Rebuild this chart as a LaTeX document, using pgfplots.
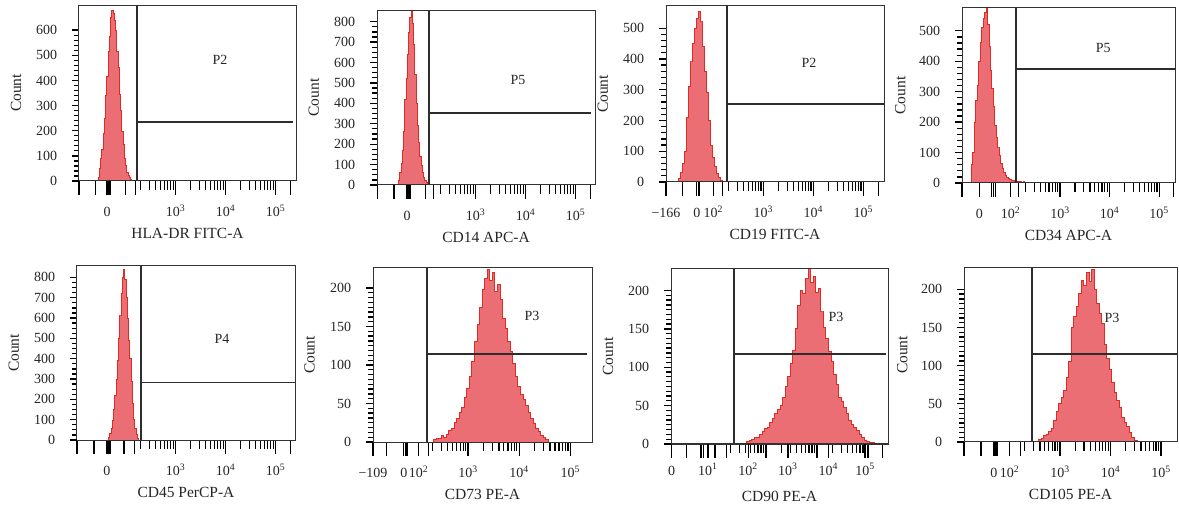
\documentclass[border=0pt]{standalone}
\usepackage{fontspec}
\setmainfont{Liberation Serif}
\usepackage{pgfplots}
\pgfplotsset{compat=1.18}

\definecolor{histfill}{RGB}{236,110,117}
\definecolor{histline}{RGB}{224,42,36}
\definecolor{gatecol}{RGB}{45,45,45}

% minor ticks at 2..9 x 10^k, k = 2,3,4 (display units: 10^k sits at k)
\def\logminor{2.301,2.477,2.602,2.699,2.778,2.845,2.903,2.954,3.301,3.477,3.602,3.699,3.778,3.845,3.903,3.954,4.301,4.477,4.602,4.699,4.778,4.845,4.903,4.954}

\tikzset{plab/.style={font=\fontsize{14}{16}\selectfont, text=black!85}}

\pgfplotsset{
  facs/.style={
    scale only axis,
    axis on top,
    anchor=south west,
    axis line style={draw=black!80, line width=1pt},
    tick align=outside,
    xtick pos=bottom, ytick pos=left,
    tick style={black, line width=1.3pt},
    xtick style={/pgfplots/major tick length=14pt, /pgfplots/minor tick length=9pt},
    ytick style={/pgfplots/major tick length=7pt, /pgfplots/minor tick length=5pt},
    minor xtick=\logminor,
    ymin=0,
    /pgf/number format/assume math mode=true,
    ticklabel style={font=\fontsize{14}{16}\selectfont, text=black!85},
    label style={font=\fontsize{15.5}{18}\selectfont, text=black!85},
    xlabel style={at={(axis description cs:0.5,-0.3)}, anchor=center},
    ylabel style={at={(axis description cs:-0.29,0.5)}, anchor=center},
    ylabel=Count,
    xticklabel style={anchor=base, yshift=-31pt},
    yticklabel style={anchor=east, xshift=-14pt},
    extra y ticks={0}, extra y tick labels={},
    extra y tick style={/pgfplots/major tick length=16pt},
  },
  hist/.style={const plot mark mid, fill=histfill, draw=histline, line width=1pt},
  gate/.style={gatecol, line width=1.5pt, forget plot},
}

\begin{document}
\begin{tikzpicture}[x=1pt,y=1pt]
\useasboundingbox (0,0) rectangle (1179,509);

% ---------- HLA-DR ----------
\begin{axis}[facs, at={(79pt,328pt)}, width=217pt, height=176pt,
  xmin=1.07, xmax=5.41, ymax=700,
  xtick={1.07,1.40,1.63,1.66,1.69,2,2.2,3,4,5,5.301},
  xticklabels={{},{},0,{},{},{},{},10\textsuperscript{3},10\textsuperscript{4},10\textsuperscript{5},{}},
  ytick={0,100,...,600}, minor y tick num=4,
  xlabel={HLA-DR FITC-A}]
\addplot[hist] coordinates {(1.455,0)(1.465,15)(1.49,50)(1.515,88)(1.54,125)(1.565,190)(1.59,250)(1.615,340)(1.64,415)(1.665,515)(1.69,575)(1.715,650)(1.74,680)(1.765,665)(1.79,640)(1.815,600)(1.84,515)(1.865,450)(1.89,345)(1.915,280)(1.94,195)(1.965,145)(1.99,90)(2.015,62)(2.04,35)(2.065,22)(2.09,12)(2.115,6)(2.14,3)(2.165,0)} \closedcycle;
\addplot[gate] coordinates {(2.23,0)(2.23,700)};
\addplot[gate] coordinates {(2.23,234)(5.35,234)};
\node[plab] at (axis cs:3.89,480) {P2};
\end{axis}

% ---------- CD14 ----------
\begin{axis}[facs, at={(377pt,324pt)}, width=218pt, height=175pt,
  xmin=1.03, xmax=5.39, ymax=857,
  xtick={1.04,1.37,1.63,1.66,1.69,2,2.16,3,4,5,5.301},
  xticklabels={{},{},0,{},{},{},{},10\textsuperscript{3},10\textsuperscript{4},10\textsuperscript{5},{}},
  ytick={0,100,...,800}, minor y tick num=3,
  xlabel={CD14 APC-A}]
\addplot[hist] coordinates {(1.45,0)(1.475,20)(1.50,60)(1.525,105)(1.55,170)(1.575,260)(1.60,420)(1.625,520)(1.65,640)(1.675,745)(1.70,820)(1.725,850)(1.75,790)(1.775,690)(1.80,540)(1.825,400)(1.85,290)(1.875,210)(1.90,140)(1.925,95)(1.95,60)(1.975,38)(2.00,22)(2.025,12)(2.05,6)(2.075,3)(2.10,0)(2.15,2)(2.175,0)(2.22,2)(2.245,0)} \closedcycle;
\addplot[gate] coordinates {(2.07,0)(2.07,857)};
\addplot[gate] coordinates {(2.07,353)(5.31,353)};
\node[plab] at (axis cs:3.85,515) {P5};
\end{axis}

% ---------- CD19 ----------
\begin{axis}[facs, at={(666pt,327pt)}, width=218pt, height=176pt,
  xmin=1.054, xmax=5.414, ymax=572,
  xtick={1.054,1.39,1.67,1.70,1.73,2,2.19,3,4,5,5.301},
  xticklabels={−166,{},0,{},{},10\textsuperscript{2},{},10\textsuperscript{3},10\textsuperscript{4},10\textsuperscript{5},{}},
  ytick={0,100,...,500}, minor y tick num=4,
  xlabel={CD19 FITC-A}]
\addplot[hist] coordinates {(1.294,0)(1.314,10)(1.354,30)(1.394,60)(1.434,100)(1.474,210)(1.514,310)(1.554,390)(1.594,450)(1.634,500)(1.674,530)(1.714,555)(1.754,520)(1.794,440)(1.834,360)(1.874,290)(1.914,200)(1.954,120)(1.994,80)(2.034,50)(2.074,28)(2.114,14)(2.154,5)(2.194,0)} \closedcycle;
\addplot[gate] coordinates {(2.274,0)(2.274,572)};
\addplot[gate] coordinates {(2.274,253)(5.414,253)};
\node[plab] at (axis cs:3.914,386) {P2};
\end{axis}

% ---------- CD34 ----------
\begin{axis}[facs, at={(962pt,326pt)}, width=213pt, height=175pt,
  xmin=1.02, xmax=5.32, ymax=575,
  xtick={1.02,1.37,1.62,1.66,1.70,2,2.16,3,4,5,5.29},
  xticklabels={{},0,{},{},{},10\textsuperscript{2},{},10\textsuperscript{3},10\textsuperscript{4},10\textsuperscript{5},{}},
  ytick={0,100,...,500}, minor y tick num=4,
  xlabel={CD34 APC-A}]
\addplot[hist] coordinates {(1.19,0)(1.22,60)(1.25,100)(1.28,200)(1.31,270)(1.34,320)(1.37,400)(1.40,460)(1.43,510)(1.46,540)(1.49,560)(1.52,572)(1.55,520)(1.58,450)(1.61,370)(1.64,310)(1.67,250)(1.70,190)(1.73,150)(1.76,115)(1.79,90)(1.82,65)(1.85,48)(1.88,35)(1.91,26)(1.94,19)(1.97,14)(2.00,11)(2.03,9)(2.06,7)(2.09,6)(2.12,5)(2.15,5)(2.18,4)(2.21,4)(2.24,3)(2.27,4)(2.30,3)(2.33,3)(2.36,2)(2.39,3)(2.42,2)(2.45,2)(2.48,2)(2.51,2)(2.54,0)} \closedcycle;
\addplot[gate] coordinates {(2.11,0)(2.11,575)};
\addplot[gate] coordinates {(2.11,375)(5.32,375)};
\node[plab] at (axis cs:3.87,444) {P5};
\end{axis}

% ---------- CD45 ----------
\begin{axis}[facs, at={(77pt,69pt)}, width=218pt, height=174pt,
  xmin=1.03, xmax=5.39, ymax=856,
  xtick={1.03,1.37,1.63,1.66,1.69,1.97,2.18,3,4,5,5.301},
  xticklabels={{},{},0,{},{},{},{},10\textsuperscript{3},10\textsuperscript{4},10\textsuperscript{5},{}},
  ytick={0,100,...,800}, minor y tick num=3,
  xlabel={CD45 PerCP-A}]
\addplot[hist] coordinates {(1.656,0)(1.676,10)(1.701,30)(1.726,55)(1.751,95)(1.776,150)(1.801,220)(1.826,300)(1.851,390)(1.876,500)(1.901,610)(1.926,720)(1.951,800)(1.976,838)(2.001,790)(2.026,700)(2.051,600)(2.076,490)(2.101,400)(2.126,290)(2.151,180)(2.176,100)(2.201,55)(2.226,25)(2.251,8)(2.276,0)} \closedcycle;
\addplot[gate] coordinates {(2.31,0)(2.31,856)};
\addplot[gate] coordinates {(2.31,284)(5.39,284)};
\node[plab] at (axis cs:3.93,495) {P4};
\end{axis}

% ---------- CD73 ----------
\begin{axis}[facs, at={(373pt,67pt)}, width=219pt, height=174pt,
  xmin=1.137, xmax=5.426, ymax=226,
  xtick={1.137,1.40,1.74,1.77,1.80,2.03,2.23,3,4,5},
  xticklabels={−109,{},0,{},{},10\textsuperscript{2},{},10\textsuperscript{3},10\textsuperscript{4},10\textsuperscript{5}},
  ytick={0,50,...,200}, minor y tick num=7,
  xlabel={CD73 PE-A}]
\addplot[hist] coordinates {(2.30,0)(2.35,3)(2.40,5)(2.45,4)(2.50,8)(2.55,6)(2.60,10)(2.65,15)(2.70,18)(2.75,25)(2.80,30)(2.85,38)(2.90,45)(2.95,58)(3.00,70)(3.05,85)(3.10,105)(3.15,130)(3.20,152)(3.25,175)(3.30,198)(3.35,212)(3.40,224)(3.45,210)(3.50,220)(3.55,196)(3.60,205)(3.65,185)(3.70,160)(3.75,148)(3.80,130)(3.85,118)(3.90,102)(3.95,85)(4.00,72)(4.05,62)(4.10,55)(4.15,48)(4.20,38)(4.25,30)(4.30,24)(4.35,18)(4.40,14)(4.45,9)(4.50,6)(4.55,3)(4.60,0)} \closedcycle;
\addplot[gate] coordinates {(2.19,0)(2.19,226)};
\addplot[gate] coordinates {(2.19,114)(5.33,114)};
\node[plab] at (axis cs:4.25,164) {P3};
\end{axis}

% ---------- CD90 ----------
\begin{axis}[facs, at={(671pt,65pt)}, width=217pt, height=175pt,
  xmin=1.137, xmax=5.392, ymax=228,
  xtick={1.15,1.445,1.71,1.74,1.77,2,2.23,3,4,5,5.29},
  xticklabels={},
  extra x ticks={1.15,1.86,2.65,3.43,4.22,4.94},
  extra x tick labels={0,10\textsuperscript{1},10\textsuperscript{2},10\textsuperscript{3},10\textsuperscript{4},10\textsuperscript{5}},
  extra x tick style={/pgfplots/major tick length=0pt},
  ytick={0,50,...,200}, minor y tick num=7,
  xlabel={CD90 PE-A}]
\addplot[hist] coordinates {(2.60,0)(2.65,3)(2.70,5)(2.75,6)(2.80,9)(2.85,8)(2.90,13)(2.95,16)(3.00,20)(3.05,22)(3.10,28)(3.15,33)(3.20,40)(3.25,45)(3.30,50)(3.35,60)(3.40,75)(3.45,88)(3.50,105)(3.55,122)(3.60,150)(3.65,180)(3.70,200)(3.75,196)(3.80,215)(3.85,228)(3.90,210)(3.95,218)(4.00,198)(4.05,202)(4.10,172)(4.15,152)(4.20,138)(4.25,120)(4.30,108)(4.35,90)(4.40,78)(4.45,60)(4.50,55)(4.55,48)(4.60,40)(4.65,30)(4.70,25)(4.75,22)(4.80,18)(4.85,12)(4.90,8)(4.95,5)(5.00,3)(5.05,2)(5.10,2)(5.15,0)} \closedcycle;
\addplot[gate] coordinates {(2.373,0)(2.373,228)};
\addplot[gate] coordinates {(2.373,117)(5.35,117)};
\node[plab] at (axis cs:4.373,165) {P3};
\end{axis}

% ---------- CD105 ----------
\begin{axis}[facs, at={(964pt,67pt)}, width=213pt, height=174pt,
  xmin=1.099, xmax=5.317, ymax=228,
  xtick={1.10,1.436,1.69,1.72,1.75,2,2.22,3,4,5},
  xticklabels={{},{},0,{},{},10\textsuperscript{2},{},10\textsuperscript{3},10\textsuperscript{4},10\textsuperscript{5}},
  ytick={0,50,...,200}, minor y tick num=7,
  xlabel={CD105 PE-A}]
\addplot[hist] coordinates {(2.55,0)(2.60,3)(2.65,5)(2.70,8)(2.75,10)(2.80,14)(2.85,18)(2.90,28)(2.95,40)(3.00,50)(3.05,58)(3.10,68)(3.15,85)(3.20,105)(3.25,150)(3.30,165)(3.35,178)(3.40,195)(3.45,212)(3.50,205)(3.55,222)(3.60,210)(3.65,226)(3.70,200)(3.75,182)(3.80,168)(3.85,155)(3.90,128)(3.95,110)(4.00,95)(4.05,78)(4.10,65)(4.15,55)(4.20,45)(4.25,32)(4.30,26)(4.35,20)(4.40,12)(4.45,6)(4.50,2)(4.55,0)} \closedcycle;
\addplot[gate] coordinates {(2.446,0)(2.446,228)};
\addplot[gate] coordinates {(2.446,115)(5.317,115)};
\node[plab] at (axis cs:4.03,162) {P3};
\end{axis}
\end{tikzpicture}
\end{document}
